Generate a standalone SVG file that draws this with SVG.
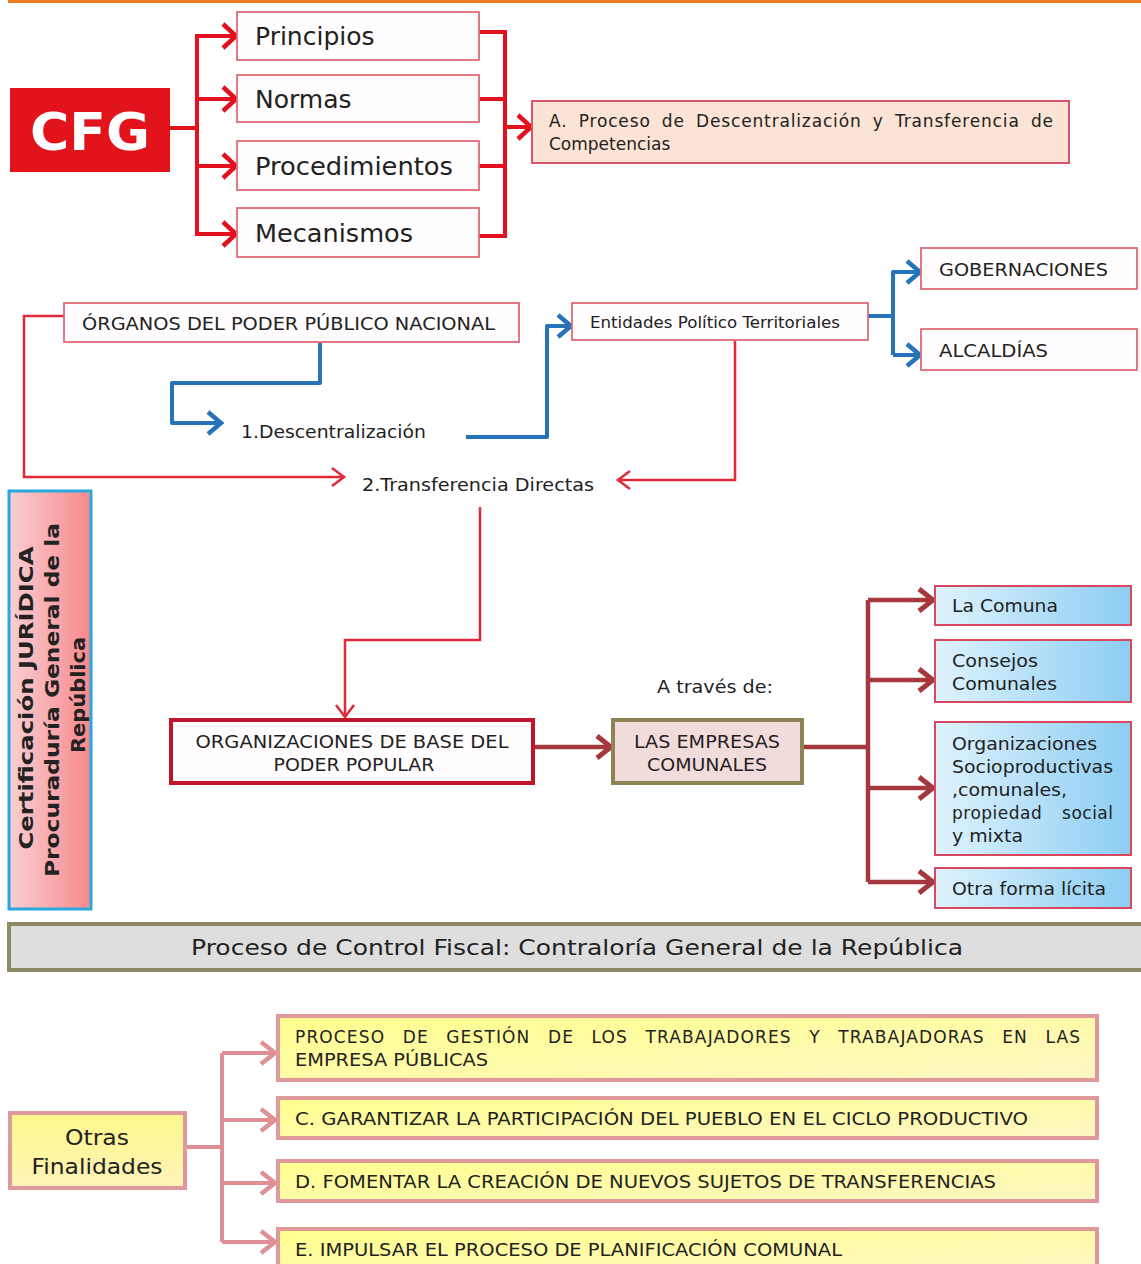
<svg xmlns="http://www.w3.org/2000/svg" width="1141" height="1264" viewBox="0 0 1141 1264">
<defs>
<style>
text{font-family:"DejaVu Sans","Verdana",sans-serif;fill:#222;}
.wbox{fill:#fffdfd;stroke:#e06a78;stroke-width:1.8;}
.c-red{fill:none;stroke:#e3101e;stroke-width:4;stroke-linejoin:miter;}
.c-thin{fill:none;stroke:#e02a3a;stroke-width:2.5;}
.c-blue{fill:none;stroke:#2673b9;stroke-width:4;stroke-linejoin:round;}
.c-dred{fill:none;stroke:#a3383e;stroke-width:4.5;}
.c-pink{fill:none;stroke:#de9094;stroke-width:4;}
.blue{fill:url(#gBlue);stroke:#d9475e;stroke-width:2;}
.yel{fill:url(#gYel);stroke:#e0999b;stroke-width:4;}
</style>
<linearGradient id="gBlue" x1="0" y1="0" x2="1" y2="0">
<stop offset="0" stop-color="#dff3fd"/><stop offset="1" stop-color="#8ccdf2"/>
</linearGradient>
<linearGradient id="gYel" x1="0" y1="0" x2="1" y2="1">
<stop offset="0" stop-color="#ffff8c"/><stop offset="1" stop-color="#fff6c4"/>
</linearGradient>
<linearGradient id="gPink" x1="0" y1="0" x2="1" y2="0">
<stop offset="0" stop-color="#f9cfd3"/><stop offset="1" stop-color="#f7898b"/>
</linearGradient>
<linearGradient id="gYel2" x1="0" y1="0" x2="0" y2="1">
<stop offset="0" stop-color="#fff88a"/><stop offset="1" stop-color="#fff3b8"/>
</linearGradient>
<marker id="aRed" markerUnits="userSpaceOnUse" markerWidth="20" markerHeight="30" viewBox="0 0 20 30" refX="17" refY="15" orient="auto">
<path d="M3,3 L16,15 L3,27" fill="none" stroke="#e3101e" stroke-width="4.5"/>
</marker>
<marker id="aThin" markerUnits="userSpaceOnUse" markerWidth="20" markerHeight="24" viewBox="0 0 20 24" refX="17" refY="12" orient="auto">
<path d="M4,3 L16,12 L4,21" fill="none" stroke="#e02a3a" stroke-width="2.5"/>
</marker>
<marker id="aBlue" markerUnits="userSpaceOnUse" markerWidth="20" markerHeight="30" viewBox="0 0 20 30" refX="17" refY="15" orient="auto">
<path d="M3,4 L16,15 L3,26" fill="none" stroke="#2673b9" stroke-width="4.5"/>
</marker>
<marker id="aDred" markerUnits="userSpaceOnUse" markerWidth="22" markerHeight="30" viewBox="0 0 22 30" refX="19" refY="15" orient="auto">
<path d="M4,4 L18,15 L4,26" fill="none" stroke="#a3383e" stroke-width="5"/>
</marker>
<marker id="aPink" markerUnits="userSpaceOnUse" markerWidth="22" markerHeight="30" viewBox="0 0 22 30" refX="19" refY="15" orient="auto">
<path d="M4,4 L18,15 L4,26" fill="none" stroke="#de9094" stroke-width="4.5"/>
</marker>
</defs>
<rect width="1141" height="1264" fill="#ffffff"/>
<rect x="8" y="0" width="1133" height="3" fill="#ec7a22"/>

<g id="connectors">
<path class="c-red" d="M170,128 H197"/>
<path class="c-red" d="M197,34 V236"/>
<path class="c-red" d="M197,36 H237" marker-end="url(#aRed)"/>
<path class="c-red" d="M197,99 H237" marker-end="url(#aRed)"/>
<path class="c-red" d="M197,166 H237" marker-end="url(#aRed)"/>
<path class="c-red" d="M197,234 H237" marker-end="url(#aRed)"/>
<path class="c-red" d="M479,32 H505 V236 H479"/>
<path class="c-red" d="M479,99 H505"/>
<path class="c-red" d="M479,166 H505"/>
<path class="c-red" d="M505,127 H532" marker-end="url(#aRed)"/>

<path class="c-thin" d="M64,316 H24 V477 H345" marker-end="url(#aThin)"/>
<path class="c-thin" d="M735,341 V480 H617" marker-end="url(#aThin)"/>
<path class="c-thin" d="M480,507 V640 H345 V718" marker-end="url(#aThin)"/>

<path class="c-blue" d="M320,343 V383 H172 V423 H222" marker-end="url(#aBlue)"/>
<path class="c-blue" d="M466,437 H547 V326 H572" marker-end="url(#aBlue)"/>
<path class="c-blue" d="M857,316 H893"/>
<path class="c-blue" d="M921,272 H893 V355" />
<path class="c-blue" d="M893,272 H921" marker-end="url(#aBlue)"/>
<path class="c-blue" d="M893,355 H921" marker-end="url(#aBlue)"/>

<path class="c-dred" d="M533,747 H612" marker-end="url(#aDred)"/>
<path class="c-dred" d="M802,747 H868"/>
<path class="c-dred" d="M868,600 V882"/>
<path class="c-dred" d="M868,600 H934" marker-end="url(#aDred)"/>
<path class="c-dred" d="M868,680 H934" marker-end="url(#aDred)"/>
<path class="c-dred" d="M868,788 H934" marker-end="url(#aDred)"/>
<path class="c-dred" d="M868,882 H934" marker-end="url(#aDred)"/>

<path class="c-pink" d="M185,1147 H222"/>
<path class="c-pink" d="M222,1053 V1242"/>
<path class="c-pink" d="M222,1053 H276" marker-end="url(#aPink)"/>
<path class="c-pink" d="M222,1120 H276" marker-end="url(#aPink)"/>
<path class="c-pink" d="M222,1183 H276" marker-end="url(#aPink)"/>
<path class="c-pink" d="M222,1242 H276" marker-end="url(#aPink)"/>
</g>

<g id="cfg">
<rect x="10" y="88" width="160" height="84" fill="#e3131b"/>
<text x="90" y="150" font-size="52" font-weight="bold" text-anchor="middle" style="fill:#ffffff" textLength="120" lengthAdjust="spacingAndGlyphs">CFG</text>
</g>
<g id="principios"><rect class="wbox" x="237" y="12" width="242" height="48"/><text x="255" y="45" font-size="25">Principios</text></g>
<g id="normas"><rect class="wbox" x="237" y="75" width="242" height="47"/><text x="255" y="108" font-size="25">Normas</text></g>
<g id="procedimientos"><rect class="wbox" x="237" y="141" width="242" height="49"/><text x="255" y="175" font-size="25" textLength="198" lengthAdjust="spacingAndGlyphs">Procedimientos</text></g>
<g id="mecanismos"><rect class="wbox" x="237" y="208" width="242" height="49"/><text x="255" y="242" font-size="25" textLength="158" lengthAdjust="spacingAndGlyphs">Mecanismos</text></g>

<g id="procesoA">
<rect x="532" y="101" width="537" height="62" fill="#fbe3d6" stroke="#d9566a" stroke-width="2"/>
<text x="549" y="127" font-size="17" word-spacing="5" textLength="504" lengthAdjust="spacing">A. Proceso de Descentralización y Transferencia de</text>
<text x="549" y="150" font-size="17">Competencias</text>
</g>

<g id="organos"><rect class="wbox" x="64" y="303" width="455" height="39"/><text x="82" y="330" font-size="17" textLength="413" lengthAdjust="spacingAndGlyphs">ÓRGANOS DEL PODER PÚBLICO NACIONAL</text></g>
<g id="entidades"><rect class="wbox" x="572" y="303" width="296" height="37"/><text x="590" y="328" font-size="15" textLength="250" lengthAdjust="spacingAndGlyphs">Entidades Político Territoriales</text></g>
<g id="gobernaciones"><rect class="wbox" x="921" y="248" width="216" height="41"/><text x="939" y="276" font-size="17" textLength="169" lengthAdjust="spacingAndGlyphs">GOBERNACIONES</text></g>
<g id="alcaldias"><rect class="wbox" x="921" y="329" width="216" height="41"/><text x="939" y="357" font-size="17" textLength="109" lengthAdjust="spacingAndGlyphs">ALCALDÍAS</text></g>
<g id="descentralizacion"><text x="241" y="438" font-size="17" textLength="185" lengthAdjust="spacingAndGlyphs">1.Descentralización</text></g>
<g id="transferencia"><text x="362" y="491" font-size="17" textLength="232" lengthAdjust="spacingAndGlyphs">2.Transferencia Directas</text></g>

<g id="certificacion">
<rect x="9" y="491" width="82" height="418" fill="url(#gPink)" stroke="#2aa8de" stroke-width="3"/>
<g font-size="20" font-weight="bold" text-anchor="middle">
<text transform="translate(33,698) rotate(-90)" textLength="303" lengthAdjust="spacingAndGlyphs">Certificación JURÍDICA</text>
<text transform="translate(59,700) rotate(-90)" textLength="354" lengthAdjust="spacingAndGlyphs">Procuraduría General de la</text>
<text transform="translate(85,695) rotate(-90)" textLength="116" lengthAdjust="spacingAndGlyphs">República</text>
</g>
</g>

<g id="organizaciones">
<rect x="171" y="720" width="362" height="63" fill="#fffdfd" stroke="#c0152a" stroke-width="4"/>
<text x="352" y="748" font-size="17" text-anchor="middle" textLength="313" lengthAdjust="spacingAndGlyphs">ORGANIZACIONES DE BASE DEL</text>
<text x="354" y="771" font-size="17" text-anchor="middle" textLength="161" lengthAdjust="spacingAndGlyphs">PODER POPULAR</text>
</g>
<g id="atraves"><text x="657" y="693" font-size="17" textLength="116" lengthAdjust="spacingAndGlyphs">A través de:</text></g>
<g id="empresas">
<rect x="613" y="720" width="189" height="63" fill="#f2dcdb" stroke="#8c8455" stroke-width="4"/>
<text x="707" y="748" font-size="17" text-anchor="middle" textLength="146" lengthAdjust="spacingAndGlyphs">LAS EMPRESAS</text>
<text x="707" y="771" font-size="17" text-anchor="middle" textLength="120" lengthAdjust="spacingAndGlyphs">COMUNALES</text>
</g>

<g id="comuna"><rect class="blue" x="935" y="586" width="196" height="39"/><text x="952" y="612" font-size="17" textLength="106" lengthAdjust="spacingAndGlyphs">La Comuna</text></g>
<g id="consejos"><rect class="blue" x="935" y="640" width="196" height="62"/><text x="952" y="667" font-size="17" textLength="86" lengthAdjust="spacingAndGlyphs">Consejos</text><text x="952" y="690" font-size="17" textLength="105" lengthAdjust="spacingAndGlyphs">Comunales</text></g>
<g id="socioproductivas"><rect class="blue" x="935" y="722" width="196" height="133"/>
<text x="952" y="750" font-size="17" textLength="145" lengthAdjust="spacingAndGlyphs">Organizaciones</text>
<text x="952" y="773" font-size="17" textLength="161" lengthAdjust="spacingAndGlyphs">Socioproductivas</text>
<text x="952" y="796" font-size="17" textLength="115" lengthAdjust="spacingAndGlyphs">,comunales,</text>
<text x="952" y="819" font-size="17" word-spacing="14" textLength="161" lengthAdjust="spacing">propiedad social</text>
<text x="952" y="842" font-size="17" textLength="71" lengthAdjust="spacingAndGlyphs">y mixta</text>
</g>
<g id="otraforma"><rect class="blue" x="935" y="868" width="196" height="40"/><text x="952" y="895" font-size="17" textLength="154" lengthAdjust="spacingAndGlyphs">Otra forma lícita</text></g>

<g id="controlfiscal">
<rect x="9" y="924" width="1134" height="46" fill="#dedede" stroke="#8c8a62" stroke-width="4"/>
<text x="577" y="955" font-size="22" text-anchor="middle" textLength="772" lengthAdjust="spacingAndGlyphs">Proceso de Control Fiscal: Contraloría General de la República</text>
</g>

<g id="otras">
<rect x="10" y="1113" width="175" height="75" fill="url(#gYel2)" stroke="#dc9a9c" stroke-width="4"/>
<text x="97" y="1145" font-size="22" text-anchor="middle" textLength="64" lengthAdjust="spacingAndGlyphs">Otras</text>
<text x="97" y="1174" font-size="22" text-anchor="middle" textLength="131" lengthAdjust="spacingAndGlyphs">Finalidades</text>
</g>
<g id="gestion"><rect class="yel" x="278" y="1016" width="819" height="64"/>
<text x="295" y="1043" font-size="17" word-spacing="11" textLength="785" lengthAdjust="spacing">PROCESO DE GESTIÓN DE LOS TRABAJADORES Y TRABAJADORAS EN LAS</text>
<text x="295" y="1066" font-size="17" textLength="193" lengthAdjust="spacingAndGlyphs">EMPRESA PÚBLICAS</text>
</g>
<g id="garantizar"><rect class="yel" x="278" y="1098" width="819" height="40"/><text x="295" y="1125" font-size="17" textLength="733" lengthAdjust="spacingAndGlyphs">C. GARANTIZAR LA PARTICIPACIÓN DEL PUEBLO EN EL CICLO PRODUCTIVO</text></g>
<g id="fomentar"><rect class="yel" x="278" y="1161" width="819" height="40"/><text x="295" y="1188" font-size="17" textLength="701" lengthAdjust="spacingAndGlyphs">D. FOMENTAR LA CREACIÓN DE NUEVOS SUJETOS DE TRANSFERENCIAS</text></g>
<g id="impulsar"><rect class="yel" x="278" y="1229" width="819" height="44"/><text x="295" y="1256" font-size="17" textLength="547" lengthAdjust="spacingAndGlyphs">E. IMPULSAR EL PROCESO DE PLANIFICACIÓN COMUNAL</text></g>
</svg>
